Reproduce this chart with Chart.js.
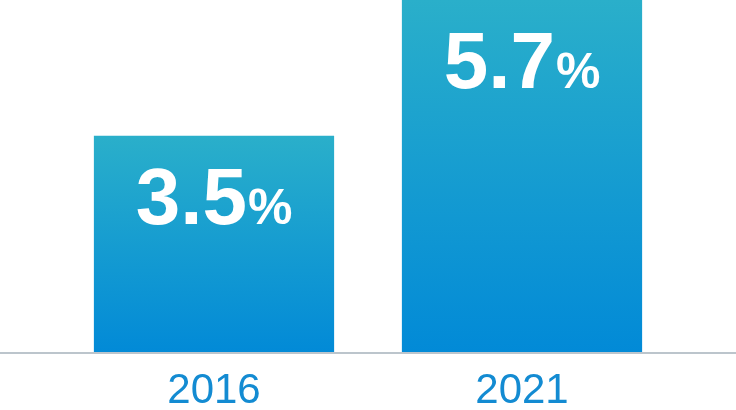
<!DOCTYPE html>
<html>
<head>
<meta charset="utf-8">
<script src="https://cdn.jsdelivr.net/npm/chart.js@4.4.1/dist/chart.umd.min.js"></script>
<style>
  html, body { margin: 0; padding: 0; background: #fff; }
  #wrap { width: 736px; height: 410px; }
</style>
</head>
<body>
<div id="wrap"><canvas id="myChart"></canvas></div>
<script>
var years = ["2016", "2021"];
var rates = [3.5, 5.7];

var
	topColor = "#2aafca",
	bottomColor = "#028ad7",
	axisGrey = "#bcc5cc",
	labelBlue = "#138bd2",
	fontFamily = "Arial, 'Liberation Sans', sans-serif";

// per-bar vertical gradient from the bar top to the baseline
function barFill(context) {
	var chart = context.chart;
	if (!chart.chartArea || !chart.scales.y) return bottomColor;
	var y = chart.scales.y;
	var top = y.getPixelForValue(context.raw);
	var base = y.getPixelForValue(0);
	var g = chart.ctx.createLinearGradient(0, top, 0, base);
	g.addColorStop(0, topColor);
	g.addColorStop(1, bottomColor);
	return g;
}

var extras = {
	id: "extras",
	afterDatasetsDraw: function(chart) {
		var ctx = chart.ctx, area = chart.chartArea;
		var xs = chart.scales.x;
		ctx.save();
		// baseline across the whole canvas
		ctx.fillStyle = axisGrey;
		ctx.fillRect(0, area.bottom, chart.width, 2);

		// year labels under the baseline
		ctx.fillStyle = labelBlue;
		ctx.font = "42px " + fontFamily;
		ctx.textAlign = "center";
		ctx.textBaseline = "alphabetic";
		years.forEach(function(yr, i) {
			ctx.fillText(yr, xs.getPixelForValue(i), area.bottom + 51);
		});

		// value labels inside bars
		var meta = chart.getDatasetMeta(0);
		ctx.fillStyle = "#fff";
		meta.data.forEach(function(bar, i) {
			var num = String(rates[i]);
			ctx.font = "bold 80px " + fontFamily;
			var wNum = ctx.measureText(num).width;
			ctx.font = "bold 50px " + fontFamily;
			var wPct = ctx.measureText("%").width;
			var gap = 1;
			var x0 = bar.x - (wNum + gap + wPct) / 2;
			var yb = bar.y + 88;
			ctx.textAlign = "left";
			ctx.font = "bold 80px " + fontFamily;
			ctx.fillText(num, x0, yb);
			ctx.font = "bold 50px " + fontFamily;
			ctx.fillText("%", x0 + wNum + gap, yb);
		});
		ctx.restore();
	}
};

var ctx = document.getElementById("myChart").getContext("2d");
var myChart = new Chart(ctx, {
	type: "bar",
	data: {
		labels: years,
		datasets: [{
			data: rates,
			backgroundColor: barFill,
			borderWidth: 0,
			categoryPercentage: 1,
			barPercentage: 0.78
		}]
	},
	options: {
		responsive: true,
		maintainAspectRatio: false,
		animation: false,
		layout: { padding: { left: 60, right: 60, top: 0, bottom: 58 } },
		plugins: {
			legend: { display: false },
			tooltip: { enabled: false }
		},
		scales: {
			x: { display: false },
			y: {
				display: false,
				min: 0,
				max: 5.7
			}
		}
	},
	plugins: [extras]
});
</script>
</body>
</html>
